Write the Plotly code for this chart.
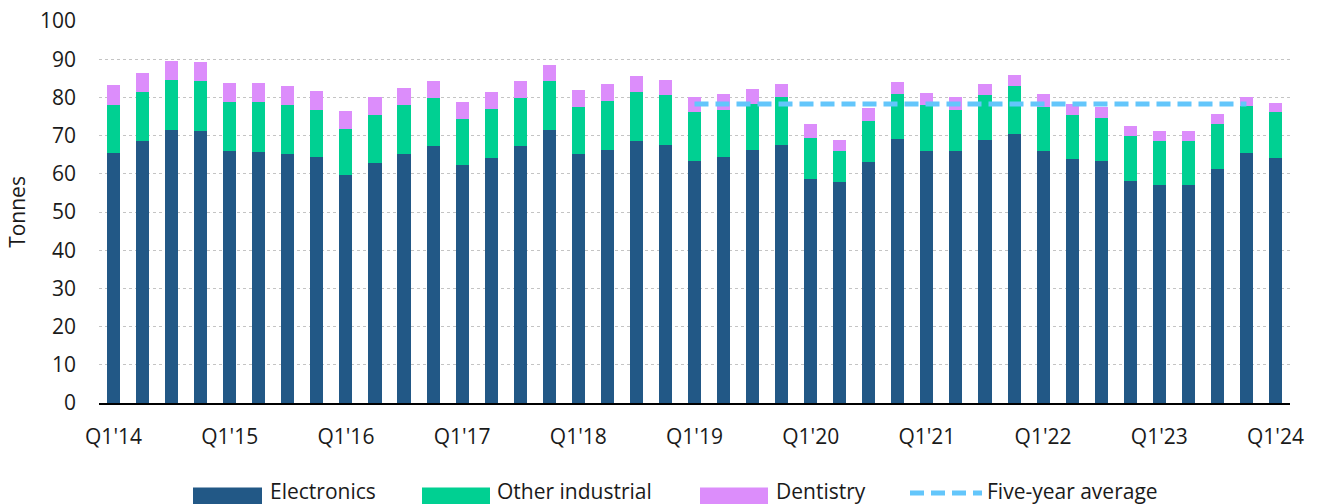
import plotly.graph_objects as go

quarters = []
for yr in range(14, 25):
    for q in range(1, 5):
        quarters.append(f"Q{q}'{yr}")
quarters = quarters[:41]  # Q1'14 .. Q1'24

electronics = [65.5, 68.6, 71.5, 71.3, 66.0, 65.6, 65.3, 64.4, 59.7, 62.8,
               65.2, 67.4, 62.2, 64.2, 67.2, 71.4, 65.2, 66.3, 68.7, 67.6,
               63.4, 64.4, 66.3, 67.6, 58.6, 57.9, 63.2, 69.1, 66.0, 66.0,
               68.9, 70.5, 66.0, 64.0, 63.4, 58.1, 57.0, 57.2, 61.3, 65.4,
               64.2]
total_other = [77.9, 81.5, 84.5, 84.3, 78.7, 78.8, 78.0, 76.8, 71.7, 75.3,
               77.9, 79.9, 74.3, 77.0, 79.9, 84.3, 77.6, 79.1, 81.5, 80.6,
               76.3, 76.8, 78.4, 80.0, 69.5, 66.0, 73.9, 81.0, 78.0, 76.8,
               80.5, 83.1, 77.6, 75.3, 74.7, 69.8, 68.7, 68.5, 73.0, 77.8,
               76.2]
total_all = [83.3, 86.5, 89.5, 89.3, 83.7, 83.8, 83.0, 81.6, 76.4, 80.1,
             82.5, 84.3, 78.8, 81.4, 84.3, 88.4, 81.9, 83.4, 85.5, 84.5,
             80.0, 80.8, 82.1, 83.5, 73.0, 68.8, 77.3, 84.1, 81.2, 80.0,
             83.5, 85.9, 81.0, 78.3, 77.4, 72.5, 71.3, 71.1, 75.6, 80.2,
             78.6]
other_industrial = [round(b - a, 2) for a, b in zip(electronics, total_other)]
dentistry = [round(b - a, 2) for a, b in zip(total_other, total_all)]

avg_quarters = quarters[20:40]  # Q1'19 .. Q4'23
avg_value = 78.3
avg_values = [avg_value] * len(avg_quarters)

tick_labels = quarters[::4]

C_ELEC = "#225886"
C_OTHER = "#00D092"
C_DENT = "#DC8DFB"
C_AVG = "#63C6FB"
FONT = "Open Sans"
TXT = "#1a1a1a"
FS = 21

fig = go.Figure()
fig.add_bar(x=quarters, y=electronics, name="Electronics", marker_color=C_ELEC, marker_line_width=0)
fig.add_bar(x=quarters, y=other_industrial, name="Other industrial", marker_color=C_OTHER, marker_line_width=0)
fig.add_bar(x=quarters, y=dentistry, name="Dentistry", marker_color=C_DENT, marker_line_width=0)
fig.add_scatter(x=avg_quarters, y=avg_values, mode="lines", name="Five-year average",
                line=dict(color=C_AVG, width=5, dash="14px,7px"))

W, H = 1319, 504
L, R, T, B = 99, 29, 21, 101
pw, ph = W - L - R, H - T - B

def px(x):
    return (x - L) / pw

def py(y):
    return (H - B - y) / ph

shapes = []
annotations = []
legend_items = [
    ("Electronics", C_ELEC, 193, 262, 268, "bar"),
    ("Other industrial", C_OTHER, 422, 490, 495, "bar"),
    ("Dentistry", C_DENT, 700, 768, 774, "bar"),
    ("Five-year average", C_AVG, 910, 982, 985, "line"),
]
for name, col, x0, x1, xt, kind in legend_items:
    if kind == "bar":
        shapes.append(dict(type="rect", xref="paper", yref="paper",
                           x0=px(x0), x1=px(x1), y0=py(504), y1=py(487.5),
                           fillcolor=col, line_width=0))
    else:
        shapes.append(dict(type="line", xref="paper", yref="paper",
                           x0=px(x0), x1=px(x1), y0=py(493), y1=py(493),
                           line=dict(color=col, width=5, dash="14px,7px")))
    annotations.append(dict(text=name, xref="paper", yref="paper", x=px(xt), y=py(491),
                            xanchor="left", yanchor="middle", showarrow=False,
                            font=dict(family=FONT, size=FS, color=TXT)))

fig.update_layout(
    width=W, height=H,
    margin=dict(l=L, r=R, t=T, b=B, autoexpand=False),
    barmode="stack", bargap=0.55,
    plot_bgcolor="white", paper_bgcolor="white",
    showlegend=False,
    font=dict(family=FONT, size=FS, color=TXT),
    shapes=shapes, annotations=annotations,
)
fig.update_xaxes(
    type="category", range=[-0.5, 40.5], automargin=False,
    tickmode="array", tickvals=tick_labels, ticktext=tick_labels,
    showline=True, linecolor="#000000", linewidth=1.5,
    showgrid=False, ticks="", ticklabelstandoff=14,
    tickfont=dict(family=FONT, size=FS, color=TXT),
)
fig.update_yaxes(
    range=[0, 100], tickmode="linear", tick0=0, dtick=10, automargin=False,
    showgrid=True, gridcolor="#c4c4c4", griddash="dot", gridwidth=1,
    zeroline=False, showline=False, ticks="", ticklabelstandoff=22,
    tickfont=dict(family=FONT, size=FS, color=TXT),
    title=dict(text="Tonnes", standoff=8, font=dict(family=FONT, size=FS, color=TXT)),
)

fig.write_html("out.html", config={"displayModeBar": False},
               post_script="document.body.style.margin='0';document.body.style.overflow='hidden';")
